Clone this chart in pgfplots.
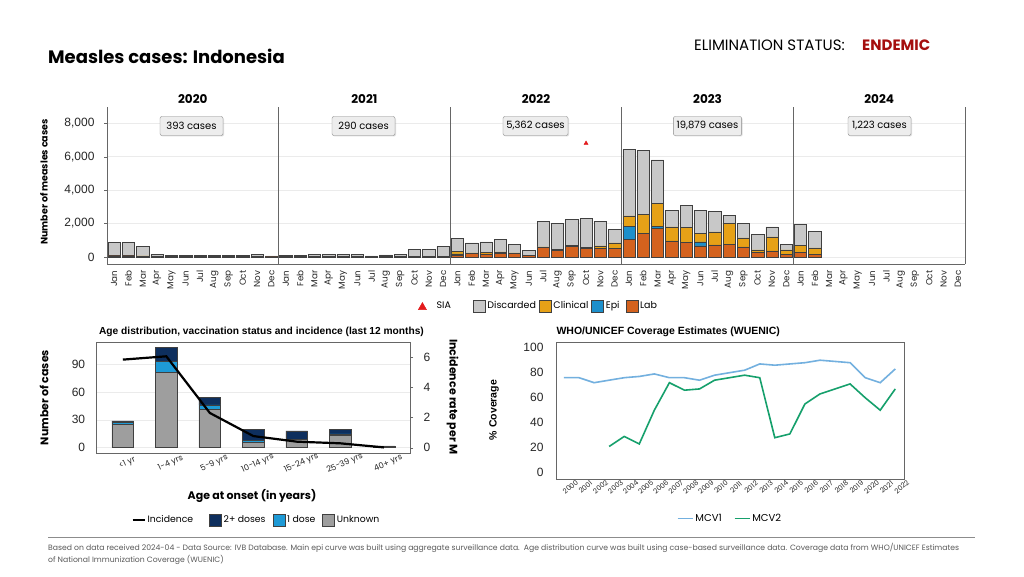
\documentclass[border=0pt]{standalone}
\usepackage{pgfplots}
\pgfplotsset{compat=1.18}
\usepackage{pgfplotstable}
\usepackage{fontspec}
\setmainfont{Poppins}
\newfontfamily\arial{Liberation Sans}
\usetikzlibrary{shadows}
\definecolor{lab}{HTML}{D4621E}
\definecolor{clin}{HTML}{E6A117}
\definecolor{epi}{HTML}{1C8FCB}
\definecolor{disc}{HTML}{C8C8C8}
\definecolor{navy}{HTML}{0E2F5E}
\definecolor{onedose}{HTML}{1E9AD6}
\definecolor{unk}{HTML}{9E9E9E}
\definecolor{mcvone}{HTML}{73B0DF}
\definecolor{mcvtwo}{HTML}{16A06C}
\definecolor{endemic}{HTML}{A50F0F}
\definecolor{siared}{HTML}{E31A1C}
\definecolor{gridc}{HTML}{EBEBEB}
\definecolor{framec}{HTML}{666666}
\newcommand\fs[1]{\fontsize{#1}{#1}\selectfont}

\pgfplotstableread{
x lab epi clin disc
1 60 0 40 780
2 60 0 40 755
3 40 0 20 580
4 20 0 0 140
5 15 0 0 85
6 15 0 0 85
7 15 0 0 85
8 15 0 0 85
9 15 0 0 85
10 15 0 0 85
11 15 0 0 145
12 8 0 0 52
13 20 0 0 60
14 20 0 0 60
15 25 0 0 135
16 25 0 0 135
17 25 0 0 135
18 25 0 0 135
19 15 0 0 45
20 20 0 0 100
21 25 0 0 135
22 30 0 0 430
23 30 0 0 410
24 30 0 0 610
25 80 100 160 780
26 200 0 40 600
27 180 0 80 640
28 220 0 80 760
29 200 0 40 520
30 100 0 0 300
31 560 0 40 1530
32 400 0 40 1570
33 640 0 60 1550
34 520 0 60 1730
35 520 0 140 1470
36 500 0 340 820
37 1060 760 640 4000
38 1400 0 1160 3830
39 1715 120 1380 2590
40 960 0 840 1000
41 860 0 920 1310
42 660 240 500 1410
43 720 0 780 1250
44 760 0 1255 480
45 600 0 540 880
46 260 0 160 955
47 360 0 840 600
48 160 0 260 340
49 280 0 420 1250
50 140 0 400 1000
}\epicurve

\pgfplotstableread{
x unk one two inc
0 25 2 2 5.83
1 81 12 15 6.05
2 41 5 8 2.30
3 6 2 12 0.77
4 9 0 9 0.40
5 13 2 5 0.29
6 2 0 0 0.02
}\agedata

\pgfplotstableread{
year mcv1 mcv2
2000 76 nan
2001 76 nan
2002 72 nan
2003 74 21
2004 76 29
2005 77 23
2006 79 50
2007 76 72
2008 76 66
2009 74 67
2010 78 74
2011 80 76
2012 82 78
2013 87 76
2014 86 28
2015 87 31
2016 88 55
2017 90 63
2018 89 67
2019 88 71
2020 76 60
2021 72 50
2022 83 67
}\wuenic

\begin{document}
\begin{tikzpicture}[x=1pt,y=1pt]
\path[use as bounding box] (0,0) rectangle (1024,576);
\fill[white] (0,0) rectangle (1024,576);

% header
\node[anchor=west, font=\bfseries\fs{18}, inner sep=0pt] at (48,520) {Measles cases: Indonesia};
\node[anchor=west, font=\fs{15}, inner sep=0pt] at (694,530.5) {ELIMINATION STATUS:};
\node[anchor=west, font=\bfseries\fs{15}, text=endemic, inner sep=0pt] at (862,530.5) {ENDEMIC};

% ---------- main epi curve ----------
\begin{axis}[
  at={(107pt,312pt)}, anchor=south west, scale only axis,
  width=858pt, height=157pt,
  xmin=0.5, xmax=60.5, ymin=-420, ymax=8975,
  ybar stacked, bar width=0.86,
  axis x line*=bottom, axis y line*=left,
  axis line style={framec, line width=0.8pt},
  ytick={0,2000,4000,6000,8000},
  ymajorgrids, major grid style={gridc, line width=0.6pt},
  /pgf/number format/assume math mode=true,
  /pgf/number format/1000 sep={,},
  yticklabel style={font=\arial\fs{12}, text=black!85, xshift=-6pt},
  xtick={1,...,60},
  xticklabels={Jan,Feb,Mar,Apr,May,Jun,Jul,Aug,Sep,Oct,Nov,Dec,Jan,Feb,Mar,Apr,May,Jun,Jul,Aug,Sep,Oct,Nov,Dec,Jan,Feb,Mar,Apr,May,Jun,Jul,Aug,Sep,Oct,Nov,Dec,Jan,Feb,Mar,Apr,May,Jun,Jul,Aug,Sep,Oct,Nov,Dec,Jan,Feb,Mar,Apr,May,Jun,Jul,Aug,Sep,Oct,Nov,Dec},
  xticklabel style={font=\fs{8.8}, rotate=90, anchor=east, text=black!85},
  xtick style={draw=none},
  ytick style={framec},
  major tick length=3pt, tick align=outside,
  extra x ticks={12.5,24.5,36.5,48.5,60.5},
  extra x tick labels={},
  extra x tick style={grid=major, major grid style={framec, line width=0.8pt}, major tick length=0pt},
  every axis plot/.append style={draw=black!75, line width=0.5pt},
  legend image code/.code={\draw[#1] (0pt,-6pt) rectangle (12pt,6pt);},
  reverse legend,
  legend columns=-1,
  legend style={draw=none, fill=none, font=\fs{9.5}, at={(0.503,-0.268)}, anchor=center,
    /tikz/every even column/.append style={column sep=1pt}},
]
\addplot[fill=lab] table[x=x,y=lab]{\epicurve}; \addlegendentry{Lab}
\addplot[fill=epi] table[x=x,y=epi]{\epicurve}; \addlegendentry{Epi\hspace*{3pt}}
\addplot[fill=clin] table[x=x,y=clin]{\epicurve}; \addlegendentry{Clinical}
\addplot[fill=disc] table[x=x,y=disc]{\epicurve}; \addlegendentry{Discarded}
\addlegendimage{legend image code/.code={\fill[siared] (2pt,-3.5pt) -- (10pt,-3.5pt) -- (6pt,3.5pt) -- cycle;}}
\addlegendentry{\hspace*{8pt}SIA\hspace*{19pt}}
\end{axis}
\begin{axis}[
  at={(107pt,312pt)}, anchor=south west, scale only axis,
  width=858pt, height=157pt,
  xmin=0.5, xmax=60.5, ymin=-420, ymax=8975, hide axis]
\addplot[only marks, mark=triangle*, siared, mark size=2.4pt] coordinates {(34,6800)};
\end{axis}

% year labels
\foreach \xx/\yy in {192.8/2020,364.4/2021,536/2022,707.6/2023,879.2/2024}
  \node[font=\bfseries\fs{12}] at (\xx,477) {\yy};
% case boxes
\foreach \xx/\tt in {191.5/393 cases,363.5/290 cases,535.5/{5,362 cases},707.5/{19,879 cases},879.5/{1,223 cases}}
  \node[draw=black!45, fill=black!7, rounded corners=2pt, minimum width=63pt, minimum height=19pt,
        font=\fs{10}, drop shadow={shadow xshift=1pt, shadow yshift=-1pt, opacity=0.25}] at (\xx,450) {\tt};

\node[rotate=90, font=\bfseries\fs{9.5}] at (44,394) {Number of measles cases};

% ---------- age distribution ----------
\node[font=\arial\bfseries\fs{10.2}] at (261.5,244.3) {Age distribution, vaccination status and incidence (last 12 months)};
\begin{axis}[
  at={(96.7pt,122.7pt)}, anchor=south west, scale only axis,
  width=313.3pt, height=110.6pt,
  xmin=-0.6, xmax=6.6, ymin=-6, ymax=113,
  ybar stacked, bar width=0.5,
  axis line style={framec, line width=0.7pt},
  xtick={0,...,6},
  xticklabels={<1 yr,1-4 yrs,5-9 yrs,10-14 yrs,15-24 yrs,25-39 yrs,40+ yrs},
  xticklabel style={font=\fs{8.2}, rotate=24, anchor=center, yshift=-11pt, text=black!85},
  ytick={0,30,60,90}, ytick pos=left,
  /pgf/number format/assume math mode=true,
  yticklabel style={font=\arial\fs{12}, text=black!85, xshift=-8pt},
  ymajorgrids, major grid style={gridc, line width=0.5pt},
  major tick length=0pt,
  every axis plot/.append style={draw=black!75, line width=0.5pt},
  legend image code/.code={\draw[#1] (0pt,-6pt) rectangle (12pt,6pt);},
  reverse legend,
  legend columns=-1,
  legend style={draw=none, fill=none, font=\fs{9.3}, at={(0.51,-0.603)}, anchor=center,
    /tikz/every even column/.append style={column sep=5pt}},
]
\addplot[fill=unk] table[x=x,y=unk]{\agedata}; \addlegendentry{Unknown}
\addplot[fill=onedose] table[x=x,y=one]{\agedata}; \addlegendentry{1 dose}
\addplot[fill=navy] table[x=x,y=two]{\agedata}; \addlegendentry{2+ doses}
\addlegendimage{legend image code/.code={\draw[black, line width=2pt] (0pt,0pt) -- (12pt,0pt);}}
\addlegendentry{Incidence\hspace*{9pt}}
\end{axis}
\begin{axis}[
  at={(96.7pt,122.7pt)}, anchor=south west, scale only axis,
  width=313.3pt, height=110.6pt,
  xmin=-0.6, xmax=6.6, ymin=-0.37, ymax=6.95,
  axis y line*=right, axis x line=none,
  axis line style={framec, line width=0.7pt},
  ytick={0,2,4,6},
  /pgf/number format/assume math mode=true,
  yticklabel style={font=\arial\fs{12}, text=black!85, xshift=7pt},
  major tick length=3pt, tick align=outside, ytick style={framec},
]
\addplot[black, line width=2.2pt, mark=none] table[x=x,y=inc]{\agedata};
\end{axis}
\node[rotate=90, font=\bfseries\fs{11}] at (44,178.5) {Number of cases};
\node[rotate=-90, font=\bfseries\fs{11}] at (452.5,179.3) {Incidence rate per M};
\node[font=\bfseries\fs{11}] at (252,80) {Age at onset (in years)};

% ---------- WUENIC ----------
\node[anchor=west, font=\arial\bfseries\fs{10.5}] at (553,244.3) {WHO/UNICEF Coverage Estimates (WUENIC)};
\begin{axis}[
  at={(556pt,96.7pt)}, anchor=south west, scale only axis,
  width=348pt, height=136.6pt,
  xmin=1999.47, xmax=2022.58, ymin=-5.3, ymax=104,
  axis line style={framec, line width=0.7pt},
  xtick={2000,...,2022},
  /pgf/number format/assume math mode=true,
  xticklabel style={font=\fs{7}, rotate=40, anchor=center, yshift=-10pt, text=black!85, /pgf/number format/1000 sep={}},
  ytick={0,20,...,100},
  yticklabel style={font=\arial\fs{12}, text=black!85, xshift=-9pt},
  major tick length=0pt,
  legend image code/.code={\draw[#1] (0pt,0pt) -- (15pt,0pt);},
  legend columns=-1,
  legend style={draw=none, fill=none, font=\fs{10}, at={(0.5,-0.288)}, anchor=center,
    /tikz/every even column/.append style={column sep=10pt}},
]
\addplot[mcvone, line width=1.6pt, mark=none] table[x=year,y=mcv1]{\wuenic}; \addlegendentry{MCV1}
\addplot[mcvtwo, line width=1.6pt, mark=none, unbounded coords=jump] table[x=year,y=mcv2]{\wuenic}; \addlegendentry{MCV2}
\end{axis}
\node[rotate=90, font=\arial\bfseries\fs{10.5}] at (494,166) {\% Coverage};

% footer
\draw[black!45, line width=0.8pt] (48,39) -- (975,39);
\node[anchor=north west, align=left, inner sep=0pt, text=black!65, font=\fontsize{7.7}{12}\selectfont] at (48,32.5)
 {Based on data received 2024-04 - Data Source: IVB Database. Main epi curve was built using aggregate surveillance data.\ \ Age distribution curve was built using case-based surveillance data. Coverage data from WHO/UNICEF Estimates\\of National Immunization Coverage (WUENIC)};
\end{tikzpicture}
\end{document}
